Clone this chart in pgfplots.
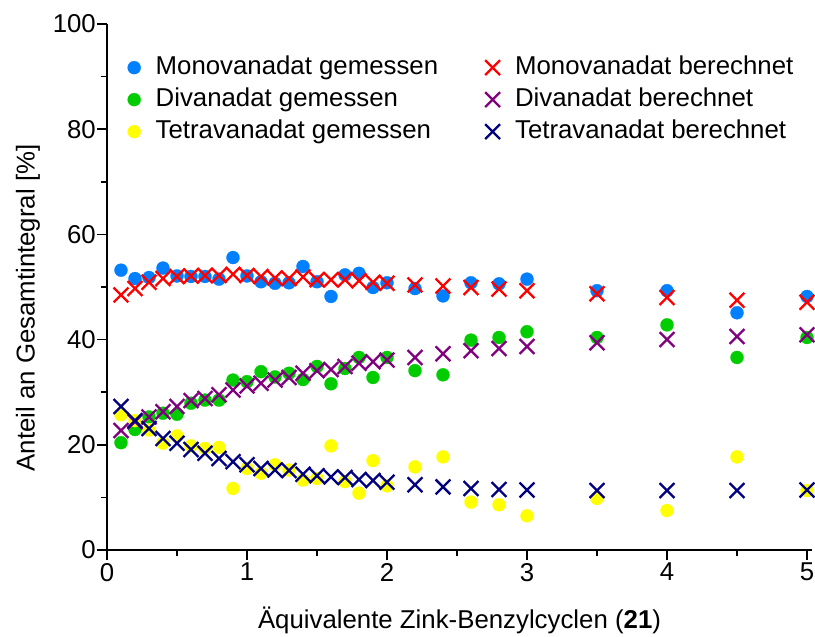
\documentclass[border=0pt]{standalone}
\usepackage{fontspec}
\setmainfont{Liberation Sans}
\usepackage{pgfplots}
\usepackage{pgfplotstable}
\pgfplotsset{compat=1.18}
\definecolor{mblue}{RGB}{0,128,255}
\definecolor{mgreen}{RGB}{0,204,0}
\definecolor{myellow}{RGB}{255,255,0}
\definecolor{mred}{RGB}{255,0,0}
\definecolor{mpurple}{RGB}{128,0,128}
\definecolor{mnavy}{RGB}{0,0,128}
\pgfplotstableread{
x    mg    dg    tg    mb    db    tb
0.1  53.2  20.4  25.7  48.5  22.7  27.3
0.2  51.6  22.9  24.6  49.7  24.4  24.6
0.3  51.8  25.3  22.8  50.9  25.3  23.1
0.4  53.6  26.0  20.3  51.6  26.3  21.2
0.5  52.1  25.8  21.7  52.0  27.3  20.3
0.6  52.0  27.9  19.8  52.1  28.4  19.1
0.7  52.0  28.5  19.3  52.2  28.8  18.4
0.8  51.5  28.5  19.5  52.2  29.5  17.4
0.9  55.6  32.3  11.7  52.4  30.4  16.8
1.0  52.1  32.0  15.5  52.2  31.2  16.2
1.1  51.0  33.9  14.6  52.0  31.7  15.5
1.2  50.7  32.9  16.2  51.7  32.3  15.2
1.3  50.8  33.6  15.2  51.6  32.8  15.1
1.4  53.9  32.4  13.3  51.9  33.6  14.4
1.5  51.0  34.9  13.6  51.4  34.1  14.1
1.6  48.2  31.6  19.8  51.4  34.3  13.9
1.7  52.3  34.5  13.0  51.4  34.9  13.8
1.8  52.6  36.6  10.8  51.2  35.5  13.4
1.9  49.9  32.8  17.0  50.9  35.8  13.2
2.0  50.8  36.6  12.2  50.7  36.1  12.9
2.2  49.7  34.1  15.8  50.4  36.6  12.4
2.4  48.3  33.3  17.7  50.2  37.3  12.0
2.6  50.8  39.9   9.1  49.9  37.9  11.7
2.8  50.6  40.4   8.6  49.6  38.3  11.5
3.0  51.5  41.5   6.5  49.3  38.7  11.4
3.5  49.3  40.4   9.8  48.7  39.4  11.3
4.0  49.3  42.8   7.5  48.0  40.0  11.3
4.5  45.1  36.6  17.7  47.5  40.6  11.3
5.0  48.2  40.4  11.3  47.1  40.9  11.4
}\data
\pgfplotsset{
  dotstyle/.style={only marks, mark=*, mark size=6.5pt, color=#1, mark options={solid, fill=#1, draw=#1, line width=0.3pt}},
  crossstyle/.style={only marks, mark=x, mark size=10.5pt, color=#1, mark options={solid, draw=#1, line width=2.3pt}},
}
\begin{document}
\begin{tikzpicture}
\begin{axis}[
  scale only axis,
  width=705pt, height=526pt,
  xmin=0, xmax=5.0357, ymin=0, ymax=100,
  axis lines*=left,
  axis line style={line width=1.5pt},
  tick style={line width=1.5pt, black},
  tick align=outside,
  major tick length=10pt, minor tick length=6pt,
  xtick={0,1,2,3,4,5}, minor x tick num=1,
  ytick={0,20,40,60,80,100}, minor y tick num=1,
  /pgf/number format/assume math mode=true,
  tick label style={font=\fontsize{25.8}{30}\selectfont},
  yticklabel style={inner sep=1pt},
  xticklabel style={inner sep=3pt},
  label style={font=\fontsize{25.8}{30}\selectfont},
  xlabel={Äquivalente Zink-Benzylcyclen (\textbf{21})},
  ylabel={Anteil an Gesamtintegral [\%]},
  x label style={at={(axis description cs:0.5,-0.133)}, anchor=center},
  y label style={at={(axis description cs:-0.112,0.46)}, anchor=center},
  clip=false,
  legend columns=2,
  legend cell align=left,
  legend style={draw=none, fill=none,
    at={(axis description cs:0.0248,0.944)}, anchor=north west,
    font=\fontsize{25.8}{30}\selectfont,
    nodes={inner sep=0pt, text height=18.5pt, text depth=5.5pt},
    row sep=8pt,
    /tikz/every odd column/.append style={column sep=15pt},
    /tikz/every even column/.append style={column sep=47pt}},
]
\addlegendimage{dotstyle=mblue}
\addlegendentry{Monovanadat gemessen}
\addlegendimage{crossstyle=mred}
\addlegendentry{Monovanadat berechnet}
\addlegendimage{dotstyle=mgreen}
\addlegendentry{Divanadat gemessen}
\addlegendimage{crossstyle=mpurple}
\addlegendentry{Divanadat berechnet}
\addlegendimage{dotstyle=myellow}
\addlegendentry{Tetravanadat gemessen}
\addlegendimage{crossstyle=mnavy}
\addlegendentry{Tetravanadat berechnet}

\addplot[forget plot, dotstyle=mblue] table[x=x, y=mg] {\data};
\addplot[forget plot, dotstyle=mgreen] table[x=x, y=dg] {\data};
\addplot[forget plot, dotstyle=myellow] table[x=x, y=tg] {\data};
\addplot[forget plot, crossstyle=mred] table[x=x, y=mb] {\data};
\addplot[forget plot, crossstyle=mpurple] table[x=x, y=db] {\data};
\addplot[forget plot, crossstyle=mnavy] table[x=x, y=tb] {\data};
\coordinate (O) at (rel axis cs:0,0);
\end{axis}
\pgfresetboundingbox
\path[shift={(O)}] (-107pt,-87pt) rectangle (708pt,550pt);
\end{tikzpicture}
\end{document}
